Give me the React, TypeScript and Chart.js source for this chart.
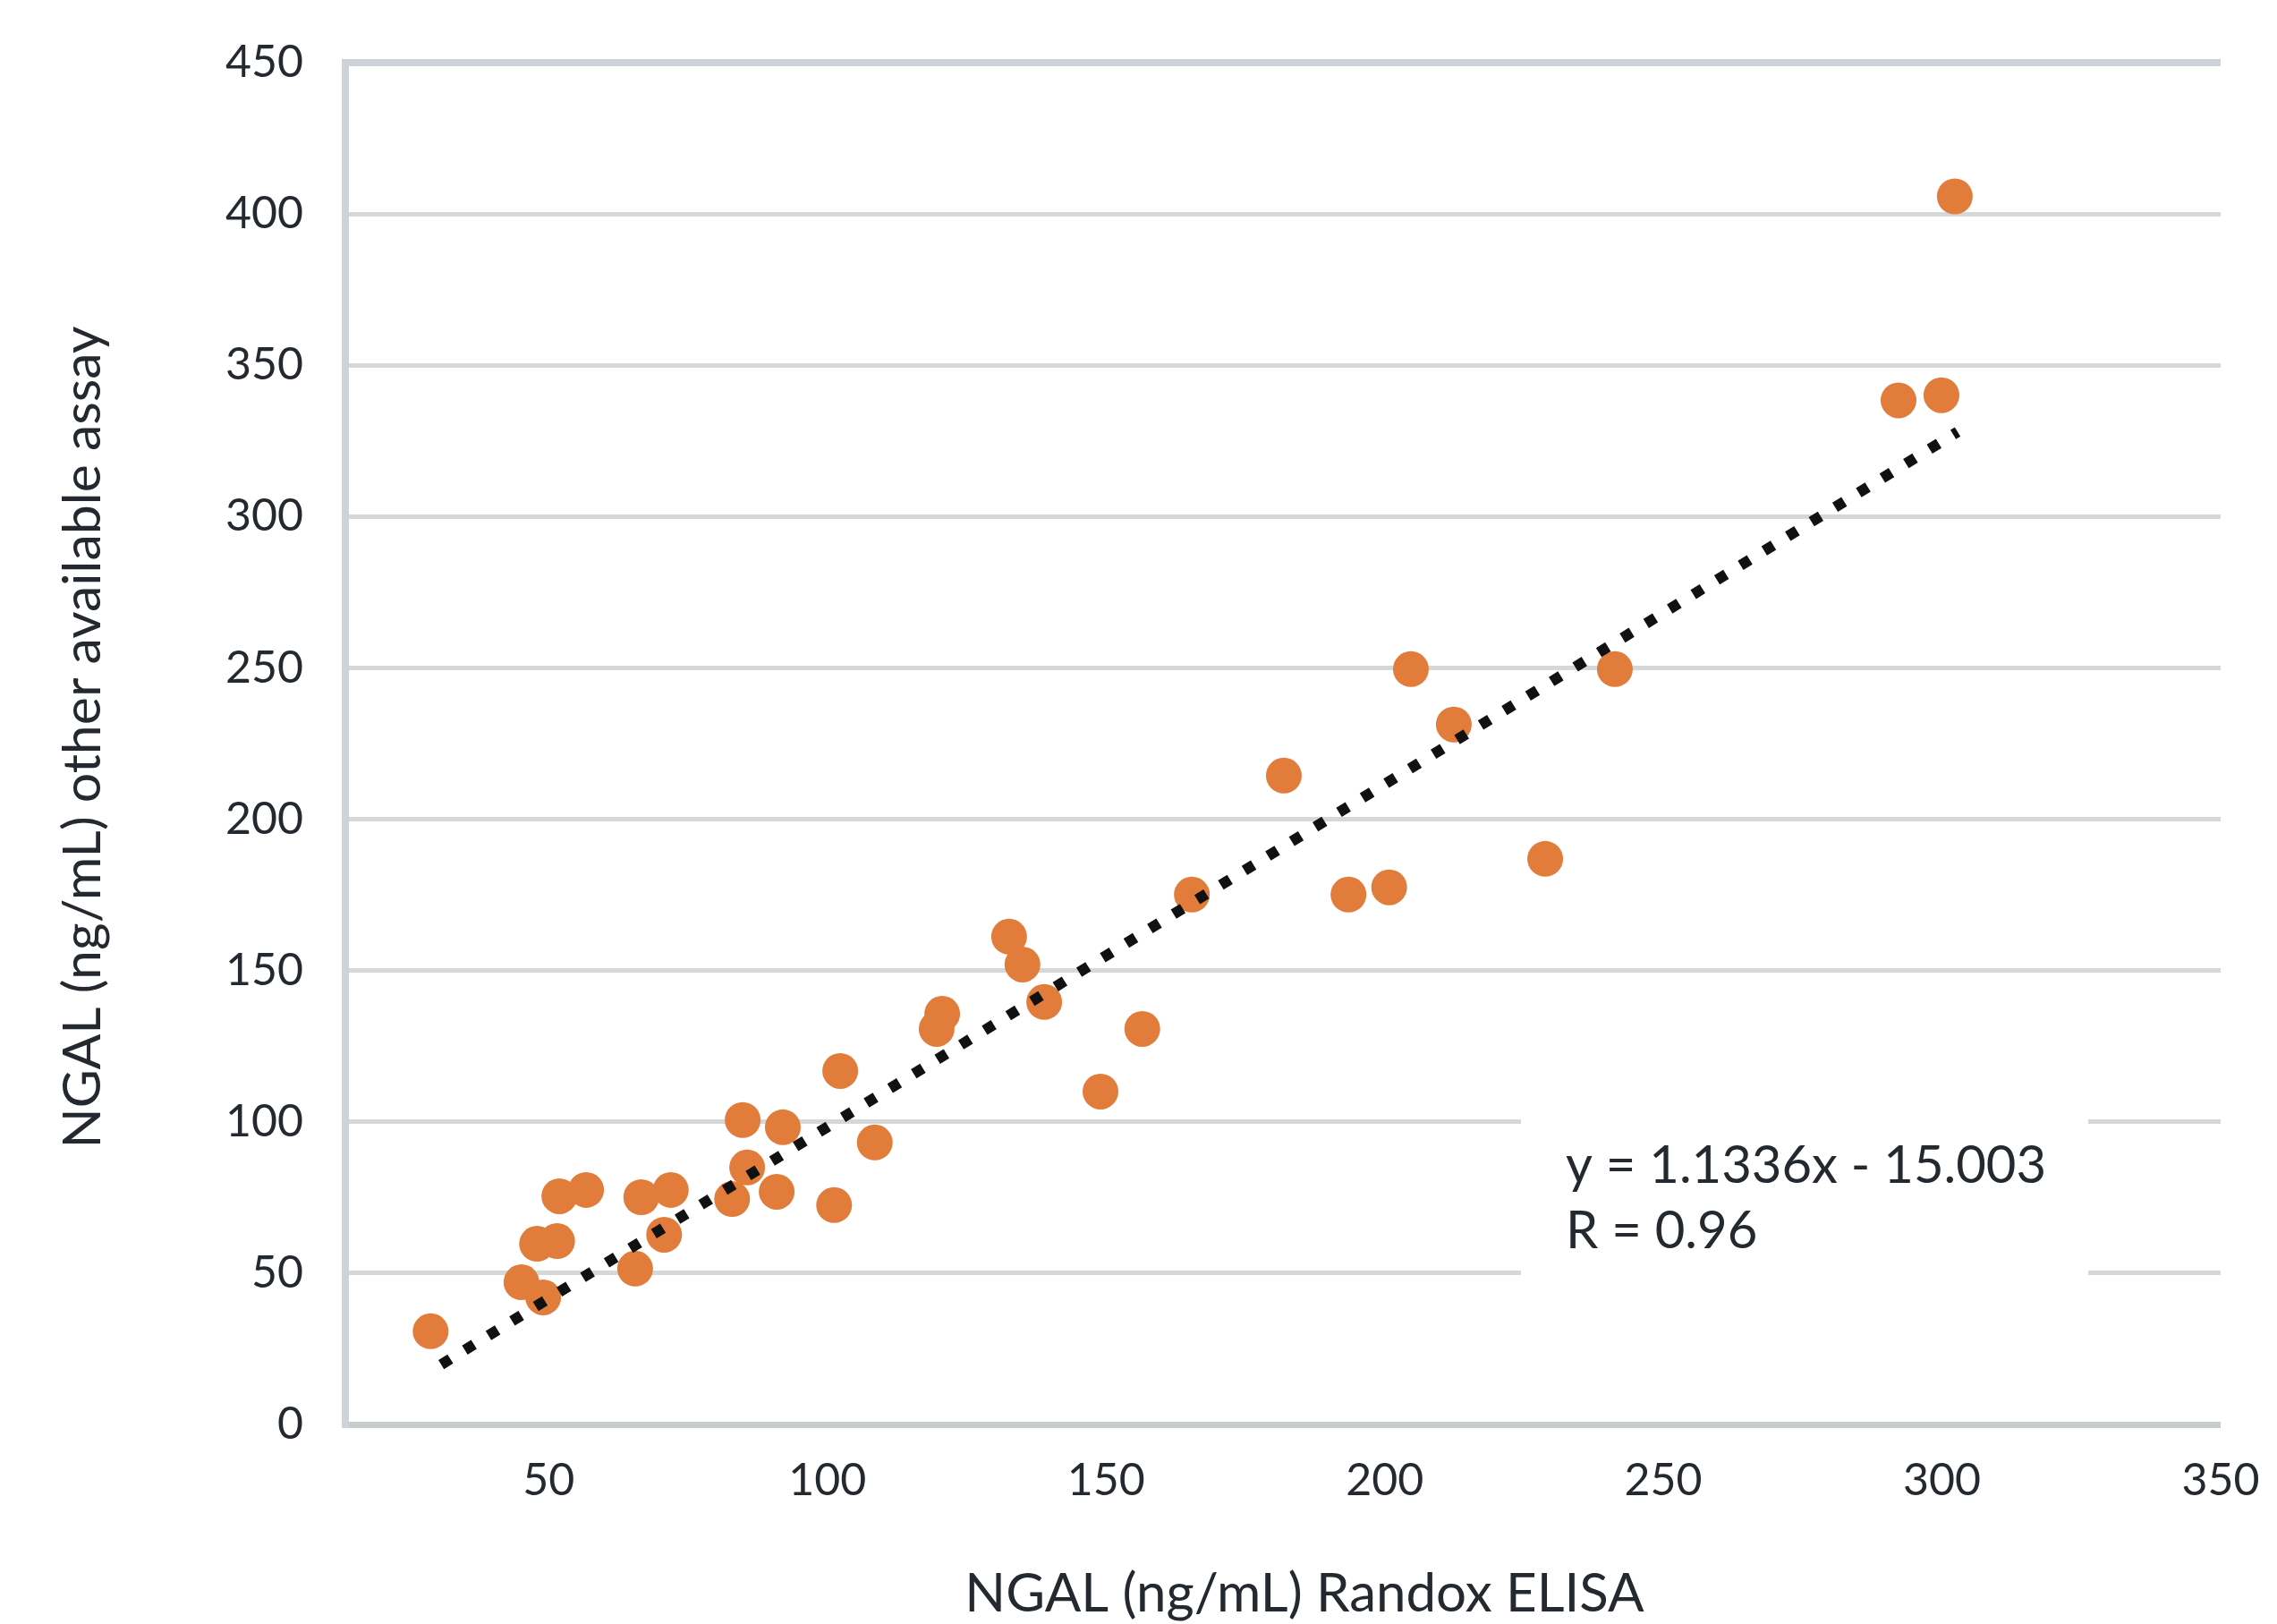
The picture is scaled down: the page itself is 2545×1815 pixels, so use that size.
import React, { useEffect, useRef } from "react";
import { Chart, registerables } from "chart.js";

Chart.register(...registerables);

// Data (NGAL Randox ELISA vs other available assay)
const X_VALUES = [
  28.8, 45.1, 49.0, 47.9, 51.5, 51.9, 56.7, 66.6, 71.9, 70.7,
  65.5, 84.8, 92.0, 85.6, 82.9, 90.9, 101.2, 108.5, 102.3, 120.6,
  119.6, 132.6, 135.0, 138.9, 156.5, 149.0, 165.4, 181.9, 204.7, 212.4,
  241.3, 193.5, 200.8, 228.8, 302.3, 292.2, 299.9,
];
const Y_VALUES = [
  30.8, 47.0, 42.0, 59.7, 60.6, 75.4, 77.5, 75.1, 77.5, 62.7,
  51.5, 100.6, 98.2, 84.9, 74.5, 76.9, 72.5, 93.2, 116.8, 135.7,
  130.7, 161.2, 152.0, 139.6, 130.7, 110.0, 175.1, 214.4, 249.6, 231.3,
  249.6, 175.1, 177.5, 186.9, 405.8, 338.4, 340.1,
];
// Linear trendline end points
const TREND_X = [30.7, 302.8];
const TREND_Y = [19.8, 328.0];

const X_TICKS = [50, 100, 150, 200, 250, 300, 350];
const Y_TICKS = [0, 50, 100, 150, 200, 250, 300, 350, 400, 450];
const X_TITLE = "NGAL (ng/mL) Randox ELISA";
const Y_TITLE = "NGAL (ng/mL) other available assay";
const EQUATION_LINES = ["y = 1.1336x - 15.003", "R = 0.96"];

const FONT = "Lato, 'Open Sans', sans-serif";
const TEXT_COLOR = "#23292e";

const textPlugin = {
  id: "textPlugin",
  beforeDatasetsDraw(chart: any) {
    const ctx = chart.ctx;
    ctx.save();
    ctx.fillStyle = "#ffffff";
    ctx.fillRect(1700, 1236, 634, 208);
    ctx.fillStyle = TEXT_COLOR;
    ctx.font = `58px ${FONT}`;
    ctx.textAlign = "left";
    ctx.textBaseline = "middle";
    EQUATION_LINES.forEach((line, i) => {
      ctx.fillText(line, 1750, 1303 + i * 73);
    });
    ctx.restore();
  },
  afterDraw(chart: any) {
    const ctx = chart.ctx;
    ctx.save();
    ctx.fillStyle = TEXT_COLOR;
    ctx.textAlign = "center";
    ctx.textBaseline = "middle";
    ctx.font = `60px ${FONT}`;
    ctx.fillText(X_TITLE, 1458, 1782);
    ctx.font = `59px ${FONT}`;
    ctx.translate(93, 824);
    ctx.rotate(-Math.PI / 2);
    ctx.fillText(Y_TITLE, 0, 0);
    ctx.restore();
  },
};

const clearScalePadding = (scale: any) => {
  scale.paddingTop = 0;
  scale.paddingBottom = 0;
  scale.paddingLeft = 0;
  scale.paddingRight = 0;
};

export default function App() {
  const canvasRef = useRef<HTMLCanvasElement | null>(null);

  useEffect(() => {
    if (!canvasRef.current) return;
    const points = X_VALUES.map((x, i) => ({ x, y: Y_VALUES[i] }));
    const trend = TREND_X.map((x, i) => ({ x, y: TREND_Y[i] }));

    const chart = new Chart(canvasRef.current, {
      type: "scatter",
      data: {
        datasets: [
          {
            label: "Trendline",
            data: trend,
            showLine: true,
            borderColor: "#111111",
            borderWidth: 12,
            borderDash: [12, 19],
            borderCapStyle: "butt",
            pointRadius: 0,
            pointHoverRadius: 0,
            order: 0,
          } as any,
          {
            label: "Samples",
            data: points,
            backgroundColor: "#e27c3b",
            borderWidth: 0,
            pointRadius: 20,
            pointHoverRadius: 20,
            order: 1,
          },
        ],
      },
      options: {
        animation: false,
        responsive: true,
        maintainAspectRatio: false,
        devicePixelRatio: 1,
        layout: { padding: { top: 70, right: 63, bottom: 0, left: 0 } },
        plugins: {
          legend: { display: false },
          tooltip: { enabled: false },
          title: { display: false },
        },
        scales: {
          x: {
            type: "linear",
            min: 13.5,
            max: 350,
            afterFit: (scale: any) => {
              scale.height = 223;
              clearScalePadding(scale);
            },
            afterBuildTicks: (scale: any) => {
              scale.ticks = X_TICKS.map((v) => ({ value: v }));
            },
            grid: { display: false, drawTicks: false },
            border: { display: false },
            ticks: {
              padding: 33,
              maxRotation: 0,
              autoSkip: false,
              color: TEXT_COLOR,
              font: { family: FONT, size: 50 },
            },
          },
          y: {
            type: "linear",
            min: 0,
            max: 450,
            afterFit: (scale: any) => {
              scale.width = 386;
              clearScalePadding(scale);
            },
            afterBuildTicks: (scale: any) => {
              scale.ticks = Y_TICKS.map((v) => ({ value: v }));
            },
            grid: {
              drawTicks: false,
              color: (c: any) =>
                c.tick && c.tick.value === 450
                  ? "#cdd3d9"
                  : c.tick && c.tick.value === 0
                  ? "#c9cccc"
                  : "#d5d8d8",
              lineWidth: (c: any) =>
                c.tick && c.tick.value === 450 ? 8 : c.tick && c.tick.value === 0 ? 7 : 5,
            },
            border: { display: true, color: "#cdd3d9", width: 8 },
            ticks: {
              padding: 47,
              color: TEXT_COLOR,
              font: { family: FONT, size: 50 },
            },
          },
        },
      },
      plugins: [textPlugin],
    });

    return () => chart.destroy();
  }, []);

  return (
    <div
      style={{
        position: "fixed",
        left: 0,
        top: 0,
        width: 2545,
        height: 1815,
        background: "#ffffff",
      }}
    >
      <canvas ref={canvasRef} />
    </div>
  );
}
